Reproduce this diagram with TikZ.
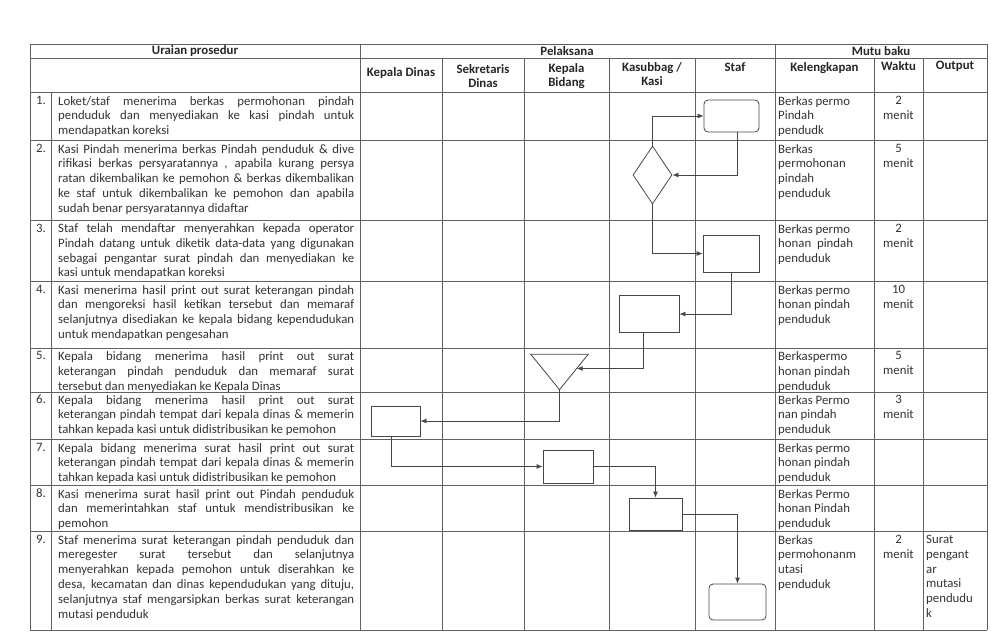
\documentclass[tikz,border=0pt]{standalone}
\usepackage{fontspec}
\setmainfont{Carlito}
\usetikzlibrary{arrows.meta,shapes.geometric,calc}

\begin{document}
\begin{tikzpicture}[x=1pt, y=-1pt, >={Latex[length=6pt,width=5pt]},
  grid/.style={draw=black!62, line width=0.8pt},
  flow/.style={draw=black!72, line width=0.8pt},
  box/.style={flow, rectangle, inner sep=0pt},
  body/.style={text=black!80, font=\fontsize{12.8}{14.8}\selectfont},
  head/.style={text=black!85, font=\bfseries\fontsize{12.8}{14}\selectfont, align=center, inner sep=0pt},
  txt/.style={body, anchor=north west, inner sep=0pt, text width=296pt, align=justify},
  num/.style={body, anchor=north, inner sep=0pt},
  kel/.style={body, anchor=north west, inner sep=0pt, align=left},
  wkt/.style={body, anchor=north, inner sep=0pt, align=center}]
  \useasboundingbox (0,0) rectangle (991,641);

  % Table frame
  \draw[grid] (30,44) -- (987,44);
  \draw[grid] (30,58) -- (987,58);
  \draw[grid] (30,92) -- (987,92);
  \draw[grid] (30,140) -- (987,140);
  \draw[grid] (30,220) -- (987,220);
  \draw[grid] (30,281) -- (987,281);
  \draw[grid] (30,348) -- (987,348);
  \draw[grid] (30,392) -- (987,392);
  \draw[grid] (30,439) -- (987,439);
  \draw[grid] (30,485) -- (987,485);
  \draw[grid] (30,531) -- (987,531);
  \draw[grid] (30,630) -- (987,630);
  \draw[grid] (30,44) -- (30,630);
  \draw[grid] (51,92) -- (51,630);
  \draw[grid] (360,44) -- (360,630);
  \draw[grid] (442,58) -- (442,630);
  \draw[grid] (524,58) -- (524,630);
  \draw[grid] (609,58) -- (609,630);
  \draw[grid] (695,58) -- (695,630);
  \draw[grid] (775,44) -- (775,630);
  \draw[grid] (874,58) -- (874,630);
  \draw[grid] (923,58) -- (923,630);
  \draw[grid] (987,44) -- (987,630);

  % Headers
  \node[head] (h-uraian) at (195,51) {Uraian prosedur};
  \node[head] (h-pel) at (567,51) {Pelaksana};
  \node[head] (h-mutu) at (881,51) {Mutu baku};
  \node[head, anchor=north] (h-kadin) at (401,67) {Kepala Dinas};
  \node[head, anchor=north] (h-sekdin) at (483,64) {Sekretaris\\Dinas};
  \node[head, anchor=north] (h-kabid) at (566.5,63) {Kepala\\Bidang};
  \node[head, anchor=north] (h-kasi) at (652,62) {Kasubbag /\\Kasi};
  \node[head, anchor=north] (h-staf) at (735,62) {Staf};
  \node[head, anchor=north] (h-kel) at (824.5,62) {Kelengkapan};
  \node[head, anchor=north] (h-wkt) at (898.5,61) {Waktu};
  \node[head, anchor=north] (h-out) at (955,61) {Output};

  % Uraian prosedur
  \node[num] (n1) at (41,96) {1.};
  \node[txt] (u1) at (58,96) {Loket/staf menerima berkas permohonan pindah\linebreak penduduk dan menyediakan ke kasi pindah untuk\linebreak mendapatkan koreksi};
  \node[num] (n2) at (41,144) {2.};
  \node[txt] (u2) at (58,144) {Kasi Pindah menerima berkas Pindah penduduk \& dive\linebreak rifikasi berkas persyaratannya , apabila kurang persya\linebreak ratan dikembalikan ke pemohon \& berkas dikembalikan\linebreak ke staf untuk dikembalikan ke pemohon dan apabila\linebreak sudah benar persyaratannya didaftar};
  \node[num] (n3) at (41,223.5) {3.};
  \node[txt] (u3) at (58,223.5) {Staf telah mendaftar menyerahkan kepada operator\linebreak Pindah datang untuk diketik data-data yang digunakan\linebreak sebagai pengantar surat pindah dan menyediakan ke\linebreak kasi untuk mendapatkan koreksi};
  \node[num] (n4) at (41,285) {4.};
  \node[txt] (u4) at (58,285) {Kasi menerima hasil print out surat keterangan pindah\linebreak dan mengoreksi hasil ketikan tersebut dan memaraf\linebreak selanjutnya disediakan ke kepala bidang kependudukan\linebreak untuk mendapatkan pengesahan};
  \node[num] (n5) at (41,351.5) {5.};
  \node[txt] (u5) at (58,351.5) {Kepala bidang menerima hasil print out surat\linebreak keterangan pindah penduduk dan memaraf surat\linebreak tersebut dan menyediakan ke Kepala Dinas};
  \node[num] (n6) at (41,395) {6.};
  \node[txt] (u6) at (58,395) {Kepala bidang menerima hasil print out surat\linebreak keterangan pindah tempat dari kepala dinas \& memerin\linebreak tahkan kepada kasi untuk didistribusikan ke pemohon};
  \node[num] (n7) at (41,443) {7.};
  \node[txt] (u7) at (58,443) {Kepala bidang menerima surat hasil print out surat\linebreak keterangan pindah tempat dari kepala dinas \& memerin\linebreak tahkan kepada kasi untuk didistribusikan ke pemohon};
  \node[num] (n8) at (41,489) {8.};
  \node[txt] (u8) at (58,489) {Kasi menerima surat hasil print out Pindah penduduk\linebreak dan memerintahkan staf untuk mendistribusikan ke\linebreak pemohon};
  \node[num] (n9) at (41,535) {9.};
  \node[txt] (u9) at (58,535) {Staf menerima surat keterangan pindah penduduk dan\linebreak meregester surat tersebut dan selanjutnya\linebreak menyerahkan kepada pemohon untuk diserahkan ke\linebreak desa, kecamatan dan dinas kependudukan yang dituju,\linebreak selanjutnya staf mengarsipkan berkas surat keterangan\linebreak mutasi penduduk};

  % Kelengkapan, Waktu, Output
  \node[kel] (k1) at (778,96) {Berkas permo\\Pindah\\pendudk};
  \node[wkt] (w1) at (898.5,96) {2\\menit};
  \node[kel] (k2) at (778,144) {Berkas\\permohonan\\pindah\\penduduk};
  \node[wkt] (w2) at (898.5,144) {5\\menit};
  \node[kel] (k3) at (778,224) {Berkas permo\\honan\ \ pindah\\penduduk};
  \node[wkt] (w3) at (898.5,224) {2\\menit};
  \node[kel] (k4t) at (778,285) {Berkas permo\\honan pindah\\penduduk};
  \node[wkt] (w4) at (898.5,285) {10\\menit};
  \node[kel] (k5) at (778,351.5) {Berkaspermo\\honan pindah\\penduduk};
  \node[wkt] (w5) at (898.5,351.5) {5\\menit};
  \node[kel] (k6) at (778,395) {Berkas Permo\\nan pindah\\penduduk};
  \node[wkt] (w6) at (898.5,395) {3\\menit};
  \node[kel] (k7) at (778,443) {Berkas permo\\honan pindah\\penduduk};
  \node[kel] (k8t) at (778,489) {Berkas Permo\\honan Pindah\\penduduk};
  \node[kel] (k9) at (778,535) {Berkas\\permohonanm\\utasi\\penduduk};
  \node[wkt] (w9) at (898.5,535) {2\\menit};
  \node[kel] (o9) at (926,535) {Surat\\pengant\\ar\\mutasi\\pendudu\\k};

  % Flowchart symbols
  \node[box, rounded corners=4pt, minimum width=55pt, minimum height=32pt] (s1) at (731.5,116) {};
  \node[flow, diamond, inner sep=0pt, minimum width=39pt, minimum height=58pt] (dec) at (652.5,175) {};
  \node[box, minimum width=56pt, minimum height=37pt] (s3) at (731,253.5) {};
  \node[box, minimum width=60pt, minimum height=37pt] (k4) at (649,314) {};
  \node[inner sep=0pt, minimum width=57pt, minimum height=35pt] (tri) at (559.5,372) {};
  \draw[flow] (tri.north west) -- (tri.north east) -- (tri.south) -- cycle;
  \coordinate (tri-in) at ($(tri.north east)!0.4!(tri.south)$);
  \node[box, minimum width=49pt, minimum height=30pt] (d6) at (395.5,421) {};
  \node[box, minimum width=50pt, minimum height=33pt] (b7) at (568,466.5) {};
  \node[box, minimum width=53pt, minimum height=32pt] (k8) at (655.5,514) {};
  \node[box, rounded corners=4pt, minimum width=57pt, minimum height=36pt] (s9) at (737.5,602) {};

  % Connectors
  \draw[flow, ->] (dec.north) |- (s1.west);
  \draw[flow, ->] ([xshift=6pt]s1.south) |- (dec.east);
  \draw[flow, ->] (dec.south) |- (s3.west);
  \draw[flow, ->] (s3.south) |- (k4.east);
  \draw[flow, ->] ([xshift=-6pt]k4.south) |- (tri-in);
  \draw[flow, ->] (tri.south) |- (d6.east);
  \draw[flow, ->] ([xshift=-4pt]d6.south) |- (b7.west);
  \draw[flow, ->] (b7.east) -| (k8.north);
  \draw[flow, ->] (k8.east) -| (s9.north);
\end{tikzpicture}
\end{document}
